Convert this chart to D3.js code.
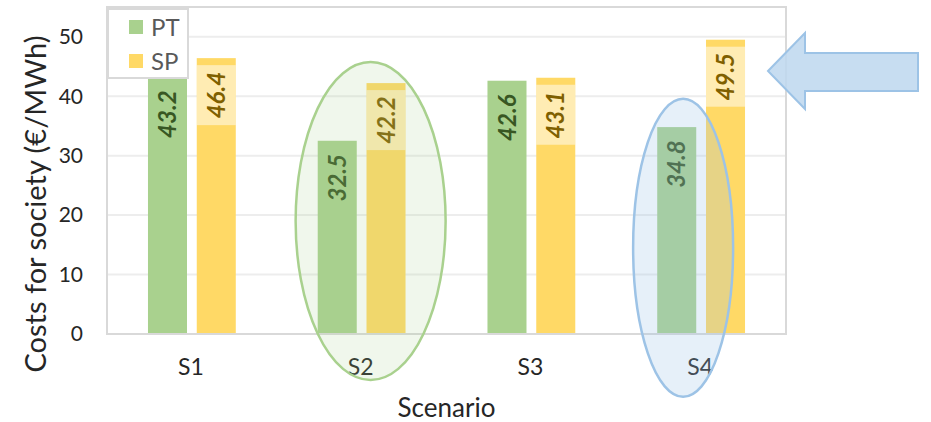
<!DOCTYPE html>
<html>
<head>
<meta charset="utf-8">
<script src="https://cdn.jsdelivr.net/npm/d3@7/dist/d3.min.js"></script>
<style>
  html, body { margin: 0; padding: 0; background: #fff; }
  svg { display: block; }
  text { font-family: "Lato", "Open Sans", sans-serif; }
</style>
</head>
<body>
<svg id="chart" width="931" height="422"></svg>
<script>
// Scenario cost data
const scenarios = ["S1", "S2", "S3", "S4"];
const seriesNames = ["PT", "SP"];
const ptValues = [43.2, 32.5, 42.6, 34.8];
const spValues = [46.4, 42.2, 43.1, 49.5];
const yTicks = [0, 10, 20, 30, 40, 50];

const colors = { PT: "#A9D18E", SP: "#FFD966" };
const labelColors = { PT: "#385723", SP: "#7F6000" };

const svg = d3.select("#chart");
const plot = { left: 107, right: 786, top: 7, bottom: 334 };

const x = d3.scaleBand().domain(scenarios).range([plot.left, plot.right]);
const xi = d3.scaleBand().domain(seriesNames).range([0, x.bandwidth()])
  .paddingInner(0.2).paddingOuter(0.84);
const y = d3.scaleLinear().domain([0, 55]).range([plot.bottom, plot.top]);

// Plot-area frame and gridlines
svg.append("rect")
  .attr("x", plot.left).attr("y", plot.top)
  .attr("width", plot.right - plot.left).attr("height", plot.bottom - plot.top)
  .attr("fill", "#fff").attr("stroke", "#D9D9D9").attr("stroke-width", 2);

svg.append("g").selectAll("line").data(yTicks.filter(d => d > 0)).join("line")
  .attr("x1", plot.left + 1).attr("x2", plot.right - 1)
  .attr("y1", d => y(d)).attr("y2", d => y(d))
  .attr("stroke", "#EDEDED").attr("stroke-width", 2);

// Bars
const rows = [];
scenarios.forEach((s, i) => {
  rows.push({ s, key: "PT", v: ptValues[i] });
  rows.push({ s, key: "SP", v: spValues[i] });
});

const barG = svg.append("g");
barG.selectAll("rect").data(rows).join("rect")
  .attr("x", d => x(d.s) + xi(d.key))
  .attr("y", d => y(d.v))
  .attr("width", xi.bandwidth())
  .attr("height", d => y(0) - y(d.v))
  .attr("fill", d => colors[d.key]);

// Data label boxes (SP only has a light fill)
barG.selectAll("rect.lbl").data(rows.filter(d => d.key === "SP")).join("rect")
  .attr("class", "lbl")
  .attr("x", d => x(d.s) + xi(d.key))
  .attr("y", d => y(d.v) + 7)
  .attr("width", xi.bandwidth())
  .attr("height", 60)
  .attr("fill", "#fff").attr("fill-opacity", 0.5);

barG.selectAll("text").data(rows).join("text")
  .attr("transform", d => `translate(${x(d.s) + xi(d.key) + xi.bandwidth() / 2},${y(d.v) + 37}) rotate(-90)`)
  .attr("text-anchor", "middle")
  .attr("dy", "0.36em")
  .attr("font-size", 24)
  .attr("font-style", "italic")
  .attr("font-weight", 700)
  .attr("fill", d => labelColors[d.key])
  .text(d => d.v.toFixed(1));

// Baseline
svg.append("line")
  .attr("x1", plot.left).attr("x2", plot.right)
  .attr("y1", y(0)).attr("y2", y(0))
  .attr("stroke", "#D9D9D9").attr("stroke-width", 2);

// Y axis labels
svg.append("g").selectAll("text").data(yTicks).join("text")
  .attr("x", 83).attr("y", d => y(d))
  .attr("dy", "0.35em")
  .attr("text-anchor", "end")
  .attr("font-size", 21)
  .attr("fill", "#262626")
  .text(d => d);

// X axis labels
svg.append("g").selectAll("text").data(scenarios).join("text")
  .attr("x", d => x(d) + x.bandwidth() / 2 - 1)
  .attr("y", 367)
  .attr("dy", "0.35em")
  .attr("text-anchor", "middle")
  .attr("font-size", 23)
  .attr("fill", "#262626")
  .text(d => d);

// Axis titles
svg.append("text")
  .attr("x", (plot.left + plot.right) / 2).attr("y", 408)
  .attr("dy", "0.35em").attr("text-anchor", "middle")
  .attr("font-size", 26).attr("fill", "#262626")
  .text("Scenario");

svg.append("text")
  .attr("transform", `translate(36,204) rotate(-90)`)
  .attr("dy", "0.35em").attr("text-anchor", "middle")
  .attr("font-size", 29).attr("fill", "#262626")
  .text("Costs for society (€/MWh)");

// Highlight ellipses
svg.append("ellipse")
  .attr("cx", x("S2") + x.bandwidth() / 2 + 9).attr("cy", y(19))
  .attr("rx", 75).attr("ry", 159)
  .attr("fill", "#A9D18E").attr("fill-opacity", 0.17)
  .attr("stroke", "#A9D18E").attr("stroke-width", 2.5);

svg.append("ellipse")
  .attr("cx", x("S4") + x.bandwidth() / 2 - 18).attr("cy", y(14.5))
  .attr("rx", 50).attr("ry", 149)
  .attr("fill", "#9DC3E6").attr("fill-opacity", 0.25)
  .attr("stroke", "#9DC3E6").attr("stroke-width", 2.5);

// Legend
const legend = svg.append("g");
legend.append("rect")
  .attr("x", 108).attr("y", 9).attr("width", 80).attr("height", 69)
  .attr("fill", "#fff").attr("stroke", "#D9D9D9").attr("stroke-width", 2);
seriesNames.forEach((k, i) => {
  legend.append("rect")
    .attr("x", 129).attr("y", 20 + i * 34).attr("width", 14).attr("height", 14)
    .attr("fill", colors[k]);
  legend.append("text")
    .attr("x", 151).attr("y", 27 + i * 34)
    .attr("dy", "0.36em")
    .attr("font-size", 24).attr("fill", "#595959")
    .text(k);
});

// Arrow pointing at the S4 SP bar
const arrow = d3.path();
arrow.moveTo(768, 71);
arrow.lineTo(805, 33);
arrow.lineTo(805, 53);
arrow.lineTo(918, 53);
arrow.lineTo(918, 91);
arrow.lineTo(805, 91);
arrow.lineTo(805, 109);
arrow.closePath();
svg.append("path")
  .attr("d", arrow.toString())
  .attr("fill", "#BDD7EE").attr("fill-opacity", 0.85)
  .attr("stroke", "#9DC3E6").attr("stroke-width", 2);
</script>
</body>
</html>
